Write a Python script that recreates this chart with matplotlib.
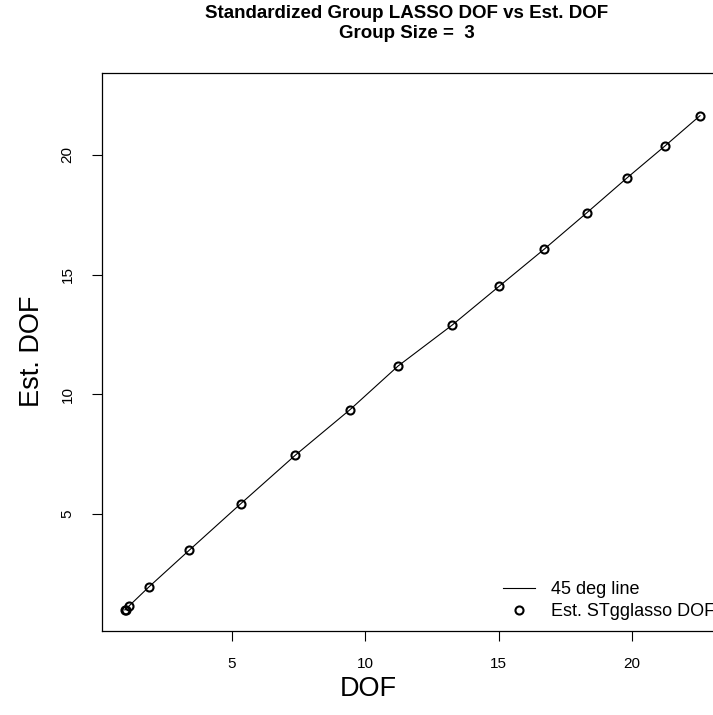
import matplotlib
matplotlib.use("Agg")
import matplotlib.pyplot as plt
from matplotlib.lines import Line2D

# True degrees of freedom and the estimated degrees of freedom along the path
dof = [0.98, 1.02, 1.15, 1.89, 3.39, 5.33, 7.38, 9.43, 11.23, 13.26,
       15.01, 16.70, 18.31, 19.81, 21.23, 22.55]
est_dof = [1.00, 1.01, 1.17, 1.96, 3.48, 5.43, 7.46, 9.36, 11.18, 12.89,
           14.50, 16.05, 17.58, 19.03, 20.36, 21.63]

x_ticks = [5, 10, 15, 20]
y_ticks = [5, 10, 15, 20]

title_lines = ["Standardized Group LASSO DOF vs Est. DOF", "Group Size =  3"]
legend_labels = ["45 deg line", "Est. STgglasso DOF"]

plt.rcParams["font.family"] = ["Liberation Sans", "DejaVu Sans"]

W, H = 713, 715
fig = plt.figure(figsize=(W / 100, H / 100), dpi=100)

# plot region in pixels (extends a little past the right edge of the canvas)
left, right, top, bottom = 101.7, 723.0, 73.0, 631.0
ax = fig.add_axes([left / W, 1 - bottom / H, (right - left) / W, (bottom - top) / H])

# R-style limits: shared range of both variables padded by 4%
lo = min(min(dof), min(est_dof))
hi = max(max(dof), max(est_dof))
pad = 0.04 * (hi - lo)
ax.set_xlim(lo - pad, hi + pad)
ax.set_ylim(lo - pad, hi + pad)

ax.plot(dof, est_dof, color="black", lw=0.8, zorder=2)
ax.plot(dof, est_dof, linestyle="none", marker="o", ms=5.8, mfc="none",
        mec="black", mew=1.5, zorder=3)

ax.set_xticks(x_ticks)
ax.set_yticks(y_ticks)
ax.set_xticklabels([str(t) for t in x_ticks], fontsize=11)
ax.set_yticklabels([str(t) for t in y_ticks], fontsize=11, rotation=90, va="center")
ax.tick_params(direction="out", length=7.5, width=0.8)
ax.tick_params(axis="x", pad=11)
ax.tick_params(axis="y", pad=12)
for s in ax.spines.values():
    s.set_linewidth(0.9)

fig.text(407 / W, 1 - 14 / H, title_lines[0], ha="center", va="center",
         fontsize=13.5, fontweight="bold")
fig.text(407 / W, 1 - 34 / H, title_lines[1], ha="center", va="center",
         fontsize=13.5, fontweight="bold")

fig.text(368 / W, 1 - 689 / H, "DOF", ha="center", va="center", fontsize=19.5)
fig.text(32 / W, 1 - 351 / H, "Est. DOF", ha="center", va="center",
         fontsize=19.5, rotation=90)

handles = [
    Line2D([], [], color="black", lw=0.8),
    Line2D([], [], linestyle="none", marker="o", ms=5.8, mfc="none",
           mec="black", mew=1.5),
]
ax.legend(handles, legend_labels, loc="upper left",
          bbox_to_anchor=((503 - left) / (right - left), (bottom - 581) / (bottom - top)),
          frameon=False, fontsize=13, handlelength=1.75, handletextpad=0.9,
          labelspacing=0.3, borderaxespad=0, borderpad=0)

fig.savefig("out.png", dpi=100)
